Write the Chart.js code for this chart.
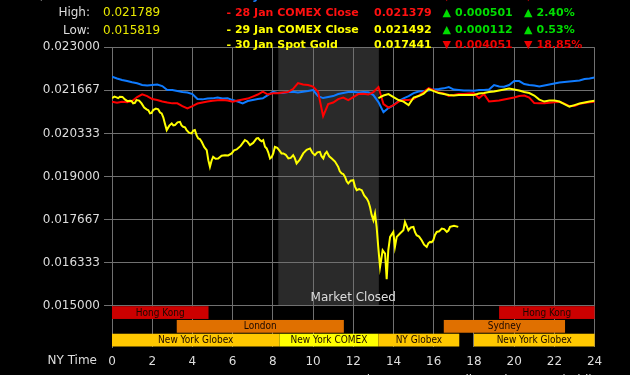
<!DOCTYPE html>
<html><head><meta charset="utf-8">
<script src="https://cdn.jsdelivr.net/npm/chart.js@4.4.1/dist/chart.umd.min.js"></script>
<style>html,body{margin:0;padding:0;background:#000;overflow:hidden}canvas{display:block}</style>
</head><body>
<canvas id="c" width="630" height="375" style="width:630px;height:375px"></canvas>
<script>
// ---------- DATA ----------
const hoursFull = Array.from({length: 97}, (_, i) => i / 4);            // 0 .. 24 NY time, 15-min steps
const hours29 = hoursFull.filter(h => h >= 13.25);                        // 13:15 .. 24

const blueVals = [
 0.022089,0.022033,0.021986,0.021955, 0.021918,0.021887,0.021832,0.021816,
 0.021832,0.021847,0.021800,0.021676, 0.021676,0.021645,0.021614,0.021599,
 0.021552,0.021397,0.021388,0.021413, 0.021419,0.021444,0.021413,0.021419,
 0.021366,0.021320,0.021264,0.021335, 0.021366,0.021397,0.021419,0.021521,
 0.021624,0.021583,0.021583,0.021614, 0.021624,0.021599,0.021624,0.021645,
 0.021676,0.021490,0.021428,0.021459, 0.021490,0.021552,0.021583,0.021614,
 0.021624,0.021599,0.021614,0.021605, 0.021521,0.021304,0.020994,0.021118,
 0.021210,0.021335,0.021419,0.021490, 0.021583,0.021630,0.021645,0.021661,
 0.021692,0.021707,0.021729,0.021769, 0.021692,0.021676,0.021661,0.021661,
 0.021655,0.021676,0.021676,0.021692, 0.021832,0.021785,0.021779,0.021832,
 0.021955,0.021955,0.021862,0.021832, 0.021816,0.021785,0.021816,0.021847,
 0.021878,0.021909,0.021924,0.021940, 0.021955,0.021971,0.022017,0.022033,
 0.022064];

const redVals = [
 0.021314,0.021283,0.021314,0.021298, 0.021335,0.021459,0.021543,0.021490,
 0.021397,0.021366,0.021320,0.021289, 0.021264,0.021264,0.021180,0.021109,
 0.021180,0.021258,0.021289,0.021320, 0.021345,0.021360,0.021366,0.021351,
 0.021314,0.021351,0.021382,0.021413, 0.021475,0.021537,0.021624,0.021537,
 0.021574,0.021574,0.021599,0.021614, 0.021707,0.021893,0.021847,0.021832,
 0.021785,0.021614,0.020870,0.021242, 0.021289,0.021397,0.021444,0.021366,
 0.021459,0.021552,0.021559,0.021537, 0.021614,0.021769,0.021242,0.021134,
 0.021210,0.021320,0.021366,0.021366, 0.021397,0.021506,0.021614,0.021738,
 0.021676,0.021599,0.021574,0.021490, 0.021521,0.021552,0.021552,0.021568,
 0.021574,0.021428,0.021552,0.021320, 0.021335,0.021351,0.021382,0.021413,
 0.021444,0.021490,0.021506,0.021444, 0.021273,0.021264,0.021264,0.021280,
 0.021295,0.021310,0.021258,0.021180, 0.021180,0.021249,0.021273,0.021295,
 0.021314];

const yellow29Vals = [
 0.021428,0.021506,0.021552,
 0.021459,0.021366,0.021320,0.021210, 0.021444,0.021490,0.021568,0.021707,
 0.021645,0.021583,0.021552,0.021521, 0.021506,0.021521,0.021521,0.021521,
 0.021521,0.021568,0.021583,0.021614, 0.021630,0.021661,0.021692,0.021723,
 0.021692,0.021661,0.021614,0.021583, 0.021506,0.021382,0.021320,0.021351,
 0.021351,0.021320,0.021242,0.021165, 0.021210,0.021258,0.021289,0.021320,
 0.021345];

const hours30 = [
 0,0.12,0.23,0.31,0.39,0.52,0.64,0.77,0.89,0.97,
 1.05,1.14,1.22,1.35,1.47,1.60,1.72,1.81,1.89,1.97,
 2.05,2.18,2.30,2.39,2.47,2.55,2.63,2.72,2.85,2.97,
 3.05,3.13,3.26,3.38,3.46,3.54,3.63,3.71,3.84,3.96,
 4.04,4.12,4.21,4.29,4.37,4.46,4.59,4.71,4.79,4.87,
 4.95,5.03,5.15,5.28,5.45,5.62,5.78,5.95,6.07,6.20,
 6.40,6.61,6.73,6.86,7.02,7.19,7.27,7.36,7.44,7.52,
 7.61,7.69,7.77,7.86,7.94,8.02,8.10,8.22,8.35,8.43,
 8.52,8.64,8.77,8.89,9.01,9.09,9.18,9.34,9.51,9.68,
 9.85,9.97,10.09,10.21,10.34,10.42,10.51,10.59,10.68,10.80,
 10.93,11.09,11.25,11.33,11.42,11.50,11.59,11.67,11.75,11.87,
 12.00,12.08,12.17,12.29,12.42,12.54,12.67,12.75,12.83,12.91,
 13.00,13.08,13.16,13.24,13.33,13.46,13.58,13.66,13.74,13.83,
 13.99,14.07,14.16,14.32,14.49,14.57,14.74,14.86,14.99,15.07,
 15.15,15.27,15.40,15.52,15.65,15.73,15.82,15.90,15.98,16.06,
 16.15,16.27,16.40,16.52,16.65,16.73,16.81,17.01,17.22];
const yellow30Vals = [
 0.021428,0.021474,0.021450,0.021425,0.021469,0.021464,0.021388,0.021332,0.021345,0.021340,
 0.021264,0.021280,0.021366,0.021350,0.021264,0.021136,0.021078,0.021051,0.020954,0.020970,
 0.021056,0.021102,0.021078,0.020981,0.020954,0.020834,0.020644,0.020436,0.020575,0.020644,
 0.020583,0.020591,0.020678,0.020694,0.020582,0.020539,0.020523,0.020436,0.020350,0.020334,
 0.020420,0.020436,0.020273,0.020179,0.020162,0.020074,0.019910,0.019816,0.019506,0.019299,
 0.019489,0.019608,0.019549,0.019559,0.019645,0.019661,0.019653,0.019714,0.019811,0.019838,
 0.019947,0.020126,0.020084,0.019971,0.020040,0.020179,0.020188,0.020126,0.020091,0.020126,
 0.019919,0.019869,0.019749,0.019559,0.019602,0.019714,0.019919,0.019887,0.019785,0.019715,
 0.019714,0.019672,0.019559,0.019575,0.019661,0.019568,0.019404,0.019524,0.019714,0.019827,
 0.019869,0.019730,0.019661,0.019748,0.019764,0.019627,0.019559,0.019697,0.019764,0.019627,
 0.019559,0.019464,0.019299,0.019162,0.019094,0.019077,0.018989,0.018852,0.018784,0.018870,
 0.018886,0.018696,0.018576,0.018611,0.018576,0.018413,0.018319,0.018224,0.018059,0.017818,
 0.017646,0.017854,0.017439,0.016819,0.016199,0.016716,0.016614,0.015819,0.016716,0.017129,
 0.017284,0.016819,0.017129,0.017234,0.017336,0.017594,0.017336,0.017423,0.017439,0.017275,
 0.017181,0.017139,0.017026,0.016888,0.016819,0.016932,0.016974,0.016965,0.017026,0.017190,
 0.017284,0.017302,0.017389,0.017372,0.017284,0.017327,0.017439,0.017475,0.017441];

const yTickValues = [0.015, 0.0163333, 0.0176667, 0.019, 0.0203333, 0.0216667, 0.023];
const yTickLabels = ['0.015000','0.016333','0.017667','0.019000','0.020333','0.021667','0.023000'];
const xTickStep = 2;

const closedHours = [8.27, 13.27];
const sessionNames  = ['Hong Kong','Hong Kong','London','Sydney','New York Globex','New York COMEX','NY Globex','New York Globex'];
const sessionStart  = [0,     19.25, 3.22,  16.5,  0,    8.33, 13.25, 18];
const sessionEnd    = [4.8,   24,    11.53, 22.53, 8.33, 13.25,17.27, 24];
const sessionRow    = [0, 0, 1, 1, 2, 2, 2, 2];
const sessionKind   = ['hk','hk','eu','eu','glx','cmx','glx','glx'];

const titleText = 'Silver/Gold Ratio (mid)';
const statLabels = ['High:', 'Low:'];
const statValues = ['0.021789', '0.015819'];

const legendLabels = ['- 27 Jan COMEX Close','- 28 Jan COMEX Close','- 29 Jan COMEX Close','- 30 Jan Spot Gold'];
const legendCloses = ['0.020878','0.021379','0.021492','0.017441'];
const legendChanges = ['0.000619','0.000501','0.000112','0.004051'];
const legendPcts = ['2.88%','2.40%','0.53%','18.85%'];
const legendUp = [false, true, true, false];
const footerLeft = 'Jan 30, 2026 4:17:15 NY Time';
const footerRight = 'silverprices.com (mid)';

// ---------- STYLE ----------
const seriesColors = {blue:'#0f7bff', red:'#ff0000', yellow:'#ffff00'};
const legendTextColors = ['#1a80ff','#ff1010','#ffff00','#ffff00'];
const sessionColors = {hk:'#cc0000', eu:'#e07000', glx:'#ffc800', cmx:'#ffff00'};
const gridColor = '#707070';
const FONT = '"DejaVu Sans", Verdana, sans-serif';

const pts = (xs, ys) => xs.map((x, i) => ({x, y: ys[i]}));

const bgPlugin = {
  id: 'bg',
  beforeDraw(chart) {
    const {ctx, chartArea, scales} = chart;
    ctx.save();
    ctx.fillStyle = '#000';
    ctx.fillRect(0, 0, chart.width, chart.height);
    const x0 = scales.x.getPixelForValue(closedHours[0]);
    const x1 = scales.x.getPixelForValue(closedHours[1]);
    const yb = scales.y.getPixelForValue(yTickValues[0]);
    ctx.fillStyle = '#2a2a2a';
    ctx.fillRect(x0, chartArea.top, x1 - x0, yb - chartArea.top);
    ctx.restore();
  }
};

const sessionPlugin = {
  id: 'sessions',
  afterDatasetsDraw(chart) {
    const {ctx, chartArea, scales} = chart;
    const top0 = scales.y.getPixelForValue(yTickValues[0]);
    const rowH = (chartArea.bottom - top0) / 3;
    ctx.save();
    ctx.font = '10px "DejaVu Sans Condensed", "DejaVu Sans", sans-serif';
    ctx.textAlign = 'center';
    ctx.textBaseline = 'middle';
    sessionNames.forEach((name, i) => {
      const xa = scales.x.getPixelForValue(sessionStart[i]);
      const xb = scales.x.getPixelForValue(sessionEnd[i]);
      const ya = top0 + sessionRow[i] * rowH + 0.5;
      const h = rowH - 1;
      ctx.fillStyle = sessionColors[sessionKind[i]];
      ctx.fillRect(xa, ya, xb - xa, h);
      ctx.fillStyle = '#1a0800';
      ctx.fillText(name, (xa + xb) / 2, ya + h / 2 + 0.5);
    });
    ctx.restore();
  }
};

const textPlugin = {
  id: 'texts',
  afterDraw(chart) {
    const {ctx, scales} = chart;
    ctx.save();
    ctx.textBaseline = 'middle';
    // title + stats
    ctx.font = '12px ' + FONT;
    ctx.fillStyle = '#dddddd';
    ctx.textAlign = 'left';
    ctx.fillText(titleText, 7, -4.5);
    const statY = [12.7, 31];
    statLabels.forEach((l, i) => {
      ctx.textAlign = 'right'; ctx.fillStyle = '#dddddd';
      ctx.fillText(l, 90, statY[i]);
      ctx.textAlign = 'left'; ctx.fillStyle = '#e8e800';
      ctx.fillText(statValues[i], 103, statY[i]);
    });
    // legend
    const ly = [-3.3, 13.3, 29.7, 45.5];
    ctx.font = 'bold 11px ' + FONT;
    ctx.textAlign = 'left';
    legendLabels.forEach((l, i) => {
      const c = legendTextColors[i];
      const ac = legendUp[i] ? '#00dd00' : '#ee0000';
      const ar = legendUp[i] ? '\u25B2' : '\u25BC';
      ctx.fillStyle = c;
      ctx.fillText(l, 226.5, ly[i]);
      ctx.fillText(legendCloses[i], 374, ly[i]);
      ctx.fillStyle = ac;
      ctx.fillText(ar, 442.5, ly[i]);
      ctx.fillText(legendChanges[i], 455, ly[i]);
      ctx.fillText(ar, 524, ly[i]);
      ctx.fillText(legendPcts[i], 536.5, ly[i]);
    });
    // axis caption
    ctx.font = '12px ' + FONT;
    ctx.fillStyle = '#dddddd';
    ctx.textAlign = 'right';
    ctx.fillText('NY Time', 97, 361);
    // market closed
    ctx.textAlign = 'center';
    ctx.fillText('Market Closed', scales.x.getPixelForValue(12), scales.y.getPixelForValue(yTickValues[0]) - 7.5);
    // footer (cut off)
    ctx.textAlign = 'left';
    ctx.fillText(footerLeft, 210, 381);
    ctx.textAlign = 'right';
    ctx.fillText(footerRight, 593, 381);
    ctx.restore();
  }
};

new Chart(document.getElementById('c'), {
  type: 'line',
  data: {
    datasets: [
      {label: '30 Jan Spot Gold', data: pts(hours30, yellow30Vals), borderColor: seriesColors.yellow, order: 0},
      {label: '29 Jan COMEX Close', data: pts(hours29, yellow29Vals), borderColor: seriesColors.yellow, order: 1},
      {label: '28 Jan COMEX Close', data: pts(hoursFull, redVals), borderColor: seriesColors.red, order: 2},
      {label: '27 Jan COMEX Close', data: pts(hoursFull, blueVals), borderColor: seriesColors.blue, order: 3}
    ]
  },
  options: {
    responsive: false,
    animation: false,
    devicePixelRatio: 1,
    elements: {line: {borderWidth: 2, tension: 0}, point: {radius: 0, hoverRadius: 0}},
    layout: {padding: {left: 0, right: 35.4, top: 47.3, bottom: 0}},
    plugins: {legend: {display: false}, tooltip: {enabled: false}},
    scales: {
      x: {
        type: 'linear', min: 0, max: 24,
        ticks: {stepSize: xTickStep, color: '#dddddd', font: {family: FONT, size: 12}, padding: 8, maxRotation: 0},
        grid: {color: gridColor, drawTicks: false},
        border: {display: false},
        afterFit(s) { s.height = 28; }
      },
      y: {
        type: 'linear', min: 0.013721, max: 0.023,
        afterBuildTicks(s) { s.ticks = yTickValues.map(v => ({value: v})); },
        ticks: {color: '#dddddd', font: {family: FONT, size: 12}, padding: 4, callback: (v, i) => yTickLabels[i]},
        grid: {color: gridColor, tickLength: 8},
        border: {display: true, color: gridColor},
        afterFit(s) { s.width = 112; }
      }
    }
  },
  plugins: [bgPlugin, sessionPlugin, textPlugin]
});
</script>
</body></html>
